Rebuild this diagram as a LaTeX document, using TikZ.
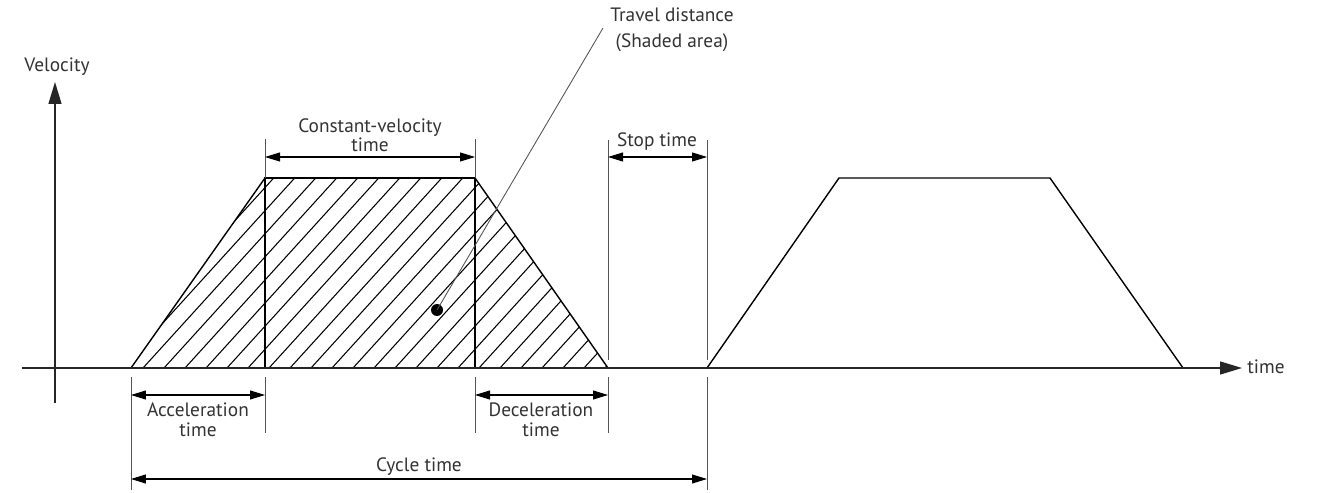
\documentclass[tikz,border=0pt]{standalone}
\usepackage{fontspec}
\setmainfont{PT Sans}
\usetikzlibrary{arrows.meta}
\definecolor{txt}{HTML}{333333}
\definecolor{extc}{HTML}{555555}
\begin{document}
\begin{tikzpicture}[x=0.02cm,y=-0.02cm,
  lbl/.style={font=\fontsize{11pt}{13pt}\selectfont, inner sep=0pt, anchor=base, text=txt},
  outl/.style={line width=0.8pt, black},
  rectl/.style={line width=1.2pt, black},
  hatchl/.style={line width=0.6pt, black},
  extl/.style={line width=0.5pt, extc},
  dimarrow/.style={line width=0.6pt, black, {Triangle[length=0.3cm,width=0.18cm]}-{Triangle[length=0.3cm,width=0.18cm]}},
  axisl/.style={line width=0.8pt, black!85},
  axtip/.style={-{Triangle[length=0.44cm,width=0.26cm]}}
]
\useasboundingbox (0,0) rectangle (1319,493);

% coordinates
\coordinate (xs) at (22,368);
\coordinate (xe) at (1242,368);
\coordinate (ys) at (55,403);
\coordinate (ye) at (55,82);
\coordinate (A0) at (131,368);
\coordinate (A1) at (265,178);
\coordinate (A2) at (475,178);
\coordinate (A3) at (608,368);
\coordinate (R0) at (265,368);
\coordinate (R3) at (475,368);
\coordinate (B0) at (707,368);
\coordinate (B1) at (839,178);
\coordinate (B2) at (1050,178);
\coordinate (B3) at (1183,368);

% hatching
\begin{scope}
  \clip (A0)--(A1)--(A2)--(A3)--cycle;
  \foreach \k in {-10,...,23}
    \draw[hatchl] ({143+21*\k},368) -- ++(200,-220);
\end{scope}

% profiles
\draw[outl] (A0)--(A1)--(A2)--(A3);
\draw[rectl] (R0)--(A1)--(A2)--(R3);
\draw[outl] (B0)--(B1)--(B2)--(B3);

% axes
\draw[axisl,axtip] (xs)--(xe);
\draw[axisl,axtip] (ys)--(ye);
\node[lbl] (vel) at (57,72) {Velocity};
\node[lbl, anchor=base west] (tm) at (1247,374) {time};

% extension lines
\coordinate (e1a) at (265,139); \coordinate (e1b) at (265,178);
\coordinate (e1c) at (265,377); \coordinate (e1d) at (265,433);
\coordinate (e2a) at (475,139); \coordinate (e2b) at (475,178);
\coordinate (e2c) at (475,377); \coordinate (e2d) at (475,433);
\coordinate (e0c) at (131,377); \coordinate (e0d) at (131,490);
\coordinate (e3a) at (608,140); \coordinate (e3b) at (608,360);
\coordinate (e3c) at (608,377); \coordinate (e3d) at (608,433);
\coordinate (e4a) at (707,140); \coordinate (e4b) at (707,360);
\coordinate (e4c) at (707,377); \coordinate (e4d) at (707,490);
\draw[extl] (e1a)--(e1b) (e1c)--(e1d);
\draw[extl] (e2a)--(e2b) (e2c)--(e2d);
\draw[extl] (e0c)--(e0d);
\draw[extl] (e3a)--(e3b) (e3c)--(e3d);
\draw[extl] (e4a)--(e4b) (e4c)--(e4d);

% dimension arrows
\coordinate (c1) at (265,157); \coordinate (c2) at (475,157);
\coordinate (s1) at (608,157); \coordinate (s2) at (707,157);
\coordinate (a1) at (131,395); \coordinate (a2) at (265,395);
\coordinate (d1) at (475,395); \coordinate (d2) at (608,395);
\coordinate (y1) at (131,479); \coordinate (y2) at (707,479);
\draw[dimarrow] (c1)--(c2);
\draw[dimarrow] (s1)--(s2);
\draw[dimarrow] (a1)--(a2);
\draw[dimarrow] (d1)--(d2);
\draw[dimarrow] (y1)--(y2);

% labels
\node[lbl] (cv1) at (370,133) {Constant-velocity};
\node[lbl] (cv2) at (370,152) {time};
\node[lbl] (st) at (657,147) {Stop time};
\node[lbl] (ac1) at (198,417) {Acceleration};
\node[lbl] (ac2) at (198,436) {time};
\node[lbl] (de1) at (541,417) {Deceleration};
\node[lbl] (de2) at (541,436) {time};
\node[lbl] (cy) at (419,471) {Cycle time};
\node[lbl] (td1) at (672,22) {Travel distance};
\node[lbl] (td2) at (672,48) {(Shaded area)};

% leader
\fill (437,310) circle[radius=6] coordinate (dot);
\coordinate (lt) at (603,28);
\draw[line width=0.5pt, extc] (dot)--(lt);
\end{tikzpicture}
\end{document}
